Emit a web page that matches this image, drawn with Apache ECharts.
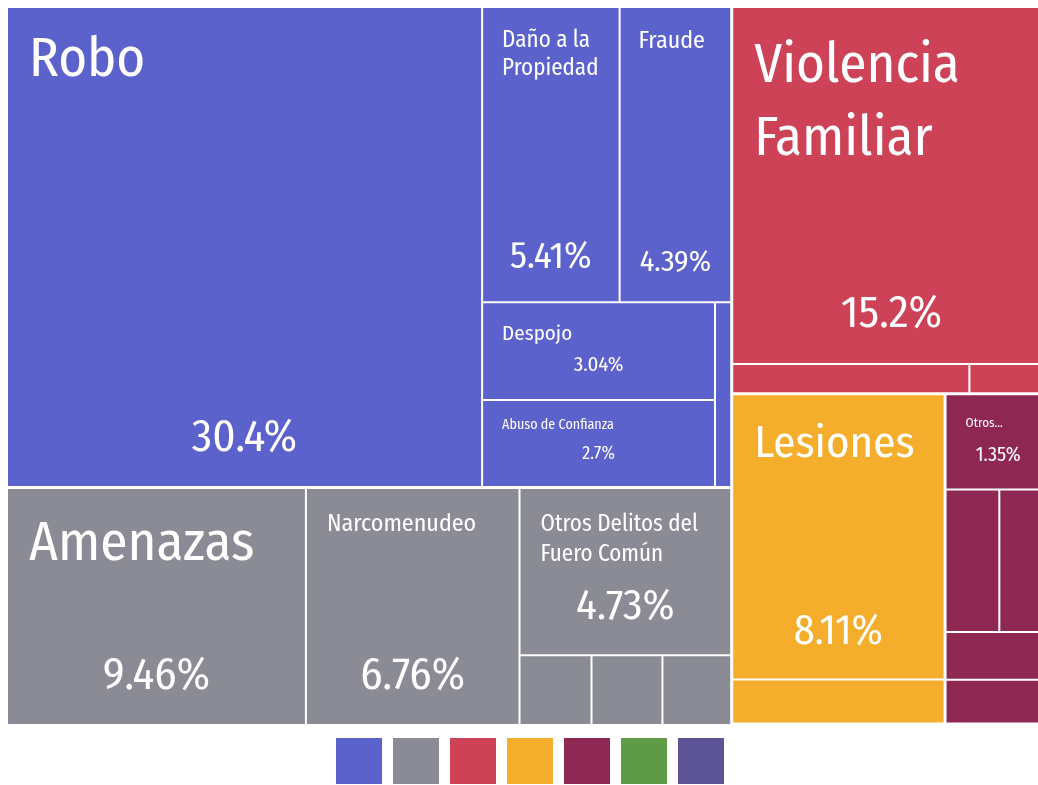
<!DOCTYPE html>
<html>
<head>
<meta charset="utf-8">
<script src="https://cdn.jsdelivr.net/npm/echarts/dist/echarts.min.js"></script>
<style>
html,body{margin:0;padding:0;background:#fff;overflow:hidden}
#chart{width:1038px;height:785px}
</style>
</head>
<body>
<div id="chart"></div>
<script>
// ---------------- data ----------------
const groups = [
  'El Patrimonio',
  'Otros Bienes Jurídicos Afectados (del Fuero Común)',
  'La Familia',
  'La Vida y la Integridad Corporal',
  'La Libertad y la Seguridad Sexual',
  'La Libertad Personal',
  'La Sociedad'
];
const patrimonioNames = ['Robo', 'Daño a la Propiedad', 'Fraude', 'Despojo', 'Abuso de Confianza', 'Extorsión'];
const patrimonioValues = [30.4, 5.41, 4.39, 3.04, 2.7, 0.4];

const fueroNames = ['Amenazas', 'Narcomenudeo', 'Otros Delitos del Fuero Común', 'Allanamiento de Morada', 'Falsificación', 'Contra el Medio Ambiente'];
const fueroValues = [9.46, 6.76, 4.73, 0.67, 0.66, 0.64];

const familiaNames = ['Violencia Familiar', 'Incumplimiento de Obligaciones de Asistencia Familiar', 'Violencia de Género Distinta a la Violencia Familiar'];
const familiaValues = [15.2, 0.93, 0.32];

const vidaNames = ['Lesiones', 'Homicidio'];
const vidaValues = [8.11, 1.25];

const sexualNames = ['Otros Delitos que Atentan contra la Libertad y la Seguridad Sexual', 'Abuso Sexual', 'Violación Simple', 'Acoso Sexual', 'Hostigamiento Sexual'];
const sexualValues = [1.35, 1.03, 0.99, 0.68, 0.62];

const libertadNames = ['Otros Delitos que Atentan contra la Libertad Personal'];
const libertadValues = [0.04];

const sociedadNames = ['Corrupción de Menores'];
const sociedadValues = [0.02];

// ---------------- styles ----------------
const groupColors = ['#5c62cc', '#8a8b95', '#cd4257', '#f5ae2b', '#8e2853', '#5f9a48', '#5d5496'];
const FONT = "'Fira Sans Condensed','Liberation Sans Narrow','Roboto Condensed','Arial Narrow',sans-serif";
// label display: font sizes / paddings; `text` gives the line breaks used in the picture
const labelStyles = {
  'Robo': {name: 55, pct: 45, pad: 21, top: 20},
  'Daño a la Propiedad': {name: 23, pct: 37, pad: 19, top: 19, text: 'Daño a la\nPropiedad'},
  'Fraude': {name: 24, pct: 30, pad: 18, top: 19},
  'Despojo': {name: 21, pct: 21, pad: 19, top: 18},
  'Abuso de Confianza': {name: 14, pct: 18, pad: 19, top: 16},
  'Amenazas': {name: 55, pct: 45, pad: 21, top: 23},
  'Narcomenudeo': {name: 24, pct: 45, pad: 20, top: 21},
  'Otros Delitos del Fuero Común': {name: 23, pct: 43, pad: 20, top: 21, lh: 1.3, text: 'Otros Delitos del\nFuero Común'},
  'Violencia Familiar': {name: 55, pct: 45, pad: 21, top: 22, lh: 1.33, text: 'Violencia\nFamiliar'},
  'Lesiones': {name: 45, pct: 42, pad: 21, top: 22},
  'Otros Delitos que Atentan contra la Libertad y la Seguridad Sexual': {name: 13, pct: 20, pad: 19, top: 20, text: 'Otros...'}
};

const groupLeaves = [
  [patrimonioNames, patrimonioValues],
  [fueroNames, fueroValues],
  [familiaNames, familiaValues],
  [vidaNames, vidaValues],
  [sexualNames, sexualValues],
  [libertadNames, libertadValues],
  [sociedadNames, sociedadValues]
];

function leaves(names, values, forPct) {
  return names.map((n, i) => {
    const st = labelStyles[n];
    const node = {name: n, value: values[i]};
    if (!st) { node.label = {show: false}; return node; }
    if (forPct) {
      node.label = {
        show: true, position: 'insideBottom', distance: 0, padding: [0, 0, 21, 0],
        fontSize: st.pct, lineHeight: Math.round(st.pct * 1.2), color: '#fff', fontFamily: FONT,
        overflow: 'none', formatter: () => values[i] + '%'
      };
    } else {
      node.label = {
        show: true, position: 'insideTopLeft', distance: 0, padding: [st.top, 2, 0, st.pad],
        fontSize: st.name, lineHeight: Math.round(st.name * (st.lh || 1.2)), color: '#fff', fontFamily: FONT,
        overflow: 'none', formatter: () => (st.text || n)
      };
    }
    return node;
  });
}

function treeData(forPct) {
  return groups.map((g, gi) => ({
    name: g,
    itemStyle: {color: forPct ? 'rgba(0,0,0,0)' : groupColors[gi]},
    children: leaves(groupLeaves[gi][0], groupLeaves[gi][1], forPct)
  }));
}

function treemapSeries(forPct) {
  const bc = forPct ? 'rgba(0,0,0,0)' : '#fff';
  return {
    type: 'treemap',
    name: forPct ? 'pct' : 'main',
    left: 8, top: 8, width: 1042, height: 716,
    roam: false, nodeClick: false, silent: forPct,
    breadcrumb: {show: false},
    animation: false,
    itemStyle: {borderWidth: 0, gapWidth: 3, borderColor: bc},
    levels: [
      {itemStyle: {borderWidth: 0, gapWidth: 3, borderColor: bc}},
      {itemStyle: {borderWidth: 0, gapWidth: 2, borderColor: bc}},
      {itemStyle: {borderWidth: 0, borderColor: bc}}
    ],
    label: {show: true, color: '#fff', fontFamily: FONT},
    upperLabel: {show: false},
    data: treeData(forPct)
  };
}

const legendSeries = groups.map((g, gi) => ({
  type: 'pie', name: g, data: [], radius: [0, 0], showEmptyCircle: false,
  itemStyle: {color: groupColors[gi]}, silent: true
}));

const option = {
  animation: false,
  legend: {
    data: groups, left: 331, top: 733, itemWidth: 46, itemHeight: 46, itemGap: 11,
    icon: 'rect', selectedMode: false, formatter: () => '', textStyle: {fontSize: 1}
  },
  series: [treemapSeries(false), treemapSeries(true)].concat(legendSeries)
};

const chart = echarts.init(document.getElementById('chart'), null, {renderer: 'canvas'});
chart.setOption(option);
</script>
</body>
</html>
